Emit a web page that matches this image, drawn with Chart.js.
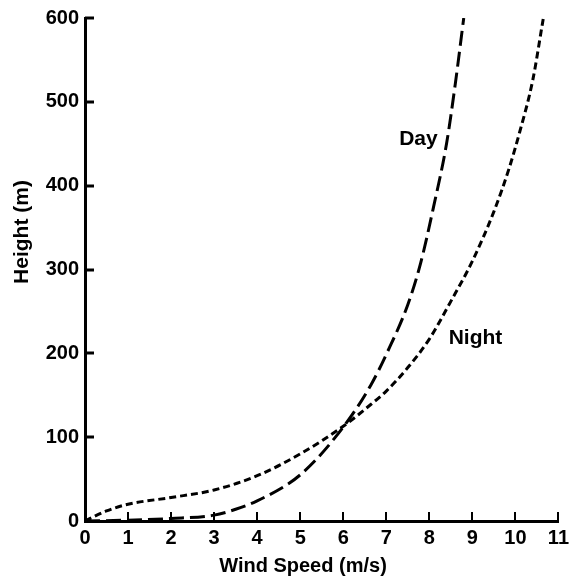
<!DOCTYPE html>
<html>
<head>
<meta charset="utf-8">
<script src="https://cdn.jsdelivr.net/npm/chart.js@4.4.1/dist/chart.umd.min.js"></script>
<style>
  html, body { margin: 0; padding: 0; background: #fff; }
  canvas { display: block; }
</style>
</head>
<body>
<canvas id="profile" width="574" height="583"></canvas>
<script>
// Wind speed profile: height above ground vs. wind speed, day and night
const daySpeed   = [0, 1, 2, 3, 3.5, 4, 5, 6, 6.64, 7.03, 7.5, 7.8, 8.1, 8.4, 8.6, 8.8];
const dayHeight  = [0, 1, 3, 7, 14, 24, 55, 112, 162, 202, 258, 308, 375, 450, 520, 600];

const nightSpeed  = [0, 0.5, 1, 2, 3, 4, 5, 6, 6.64, 7.0, 7.5, 8.0, 8.5, 9.0, 9.5, 9.85, 10.1, 10.4, 10.65];
const nightHeight = [0, 12, 20, 28, 37, 54, 80, 113, 139, 155, 183, 217, 262, 310, 369, 420, 464, 525, 600];

const speedTicks  = [0, 1, 2, 3, 4, 5, 6, 7, 8, 9, 10, 11];
const heightTicks = [0, 100, 200, 300, 400, 500, 600];

const FONT = '"Liberation Sans", Arial, Helvetica, sans-serif';

function toPoints(xs, ys) {
    return xs.map((v, i) => ({ x: v, y: ys[i] }));
}

// inward tick marks, curve labels and axis titles
const decorations = {
    id: "decorations",
    afterDraw(chart) {
        const { ctx, chartArea, scales } = chart;
        const x = scales.x;
        const y = scales.y;

        ctx.save();
        ctx.strokeStyle = "#000";
        ctx.lineCap = "butt";

        ctx.lineWidth = 2;
        speedTicks.forEach(v => {
            if (v === 0) return;
            const px = Math.round(x.getPixelForValue(v));
            ctx.beginPath();
            ctx.moveTo(px, chartArea.bottom);
            ctx.lineTo(px, chartArea.bottom - 9);
            ctx.stroke();
        });

        ctx.lineWidth = 3;
        heightTicks.forEach(v => {
            if (v === 0) return;
            const py = Math.round(y.getPixelForValue(v));
            ctx.beginPath();
            ctx.moveTo(chartArea.left, py);
            ctx.lineTo(chartArea.left + 9, py);
            ctx.stroke();
        });

        ctx.fillStyle = "#000";
        ctx.font = "bold 21px " + FONT;
        ctx.textAlign = "left";
        ctx.textBaseline = "middle";
        ctx.fillText("Day", x.getPixelForValue(7.3), y.getPixelForValue(455));
        ctx.fillText("Night", x.getPixelForValue(8.45), y.getPixelForValue(218));

        ctx.font = "bold 20px " + FONT;
        ctx.textAlign = "center";
        ctx.fillText("Wind Speed (m/s)", 303, 566);

        ctx.translate(22, 232);
        ctx.rotate(-Math.PI / 2);
        ctx.font = "bold 21px " + FONT;
        ctx.fillText("Height (m)", 0, 0);
        ctx.restore();
    }
};

new Chart(document.getElementById("profile"), {
    type: "line",
    data: {
        datasets: [
            {
                label: "Day",
                data: toPoints(daySpeed, dayHeight),
                borderColor: "#000",
                borderWidth: 3,
                borderDash: [15, 6],
                pointRadius: 0,
                cubicInterpolationMode: "monotone",
                fill: false
            },
            {
                label: "Night",
                data: toPoints(nightSpeed, nightHeight),
                borderColor: "#000",
                borderWidth: 3,
                borderDash: [7, 4],
                pointRadius: 0,
                cubicInterpolationMode: "monotone",
                fill: false
            }
        ]
    },
    options: {
        responsive: false,
        animation: false,
        layout: { padding: { top: 15, right: 12, left: 0, bottom: 0 } },
        plugins: {
            legend: { display: false },
            tooltip: { enabled: false }
        },
        scales: {
            x: {
                type: "linear",
                min: 0,
                max: 11,
                afterFit: scale => { scale.height = 62; },
                afterBuildTicks: scale => { scale.ticks = speedTicks.map(v => ({ value: v })); },
                grid: { display: false, drawTicks: false },
                border: { display: true, color: "#000", width: 3 },
                ticks: {
                    color: "#000",
                    padding: 5,
                    maxRotation: 0,
                    font: { family: FONT, size: 20, weight: "bold" }
                }
            },
            y: {
                type: "linear",
                min: 0,
                max: 600,
                afterFit: scale => { scale.width = 85; },
                afterBuildTicks: scale => { scale.ticks = heightTicks.map(v => ({ value: v })); },
                grid: { display: false, drawTicks: false },
                border: { display: true, color: "#000", width: 3 },
                ticks: {
                    color: "#000",
                    padding: 6,
                    font: { family: FONT, size: 20, weight: "bold" }
                }
            }
        }
    },
    plugins: [decorations]
});
</script>
</body>
</html>
